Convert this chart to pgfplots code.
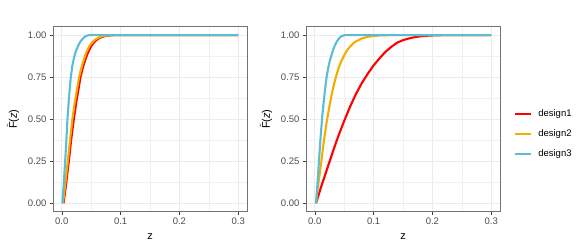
\documentclass[border=0pt]{standalone}
\usepackage{fontspec}
\setmainfont{Liberation Sans}
\usepackage{pgfplots}
\pgfplotsset{compat=1.18}
\definecolor{dred}{HTML}{FF0000}
\definecolor{dorange}{HTML}{F2AD00}
\definecolor{dblue}{HTML}{5BBCD6}
\definecolor{gridc}{HTML}{EBEBEB}
\definecolor{tickc}{HTML}{4D4D4D}
\pgfplotsset{
  myaxis/.style={
    scale only axis, width=194pt, height=185pt,
    xmin=-0.015, xmax=0.315, ymin=-0.05, ymax=1.05,
    xtick={0,0.1,0.2,0.3}, xticklabels={0.0,0.1,0.2,0.3},
    ytick={0,0.25,0.5,0.75,1}, yticklabels={0.00,0.25,0.50,0.75,1.00},
    minor xtick={0.05,0.15,0.25}, minor ytick={0.125,0.375,0.625,0.875},
    grid=both,
    major grid style={color=gridc, line width=0.9pt},
    minor grid style={color=gridc!70, line width=0.5pt},
    minor tick length=0pt, major tick length=3pt, tick align=outside,
    xtick pos=bottom, ytick pos=left,
    tick style={color=black!75, line width=0.6pt},
    axis line style={color=black!55, line width=0.8pt},
    ticklabel style={font=\fontsize{9.5}{10}\selectfont, text=tickc},
    xlabel={z}, ylabel={$\tilde{\mbox{F}}$(\textit{z})},
    label style={font=\fontsize{11}{12}\selectfont, text=black},
    x label style={at={(axis description cs:0.5,-0.149)}, anchor=base},
    y label style={at={(axis description cs:-0.206,0.5)}, anchor=center},
    every axis plot/.append style={line width=2.1pt, line join=round},
  }
}
\begin{document}
\begin{tikzpicture}[x=1pt,y=1pt]
\useasboundingbox (0,0) rectangle (581,249);
\begin{axis}[myaxis, at={(53pt,37.3pt)}, anchor=south west]
\addplot[dred] coordinates {(0.003,0) (0.0075,0.12) (0.0119,0.25) (0.016,0.38) (0.0204,0.50) (0.025,0.61) (0.0285,0.68) (0.0317,0.75) (0.036,0.81) (0.0405,0.86) (0.045,0.90) (0.05,0.935) (0.055,0.958) (0.06,0.974) (0.065,0.984) (0.071,0.992) (0.078,0.997) (0.09,1) (0.3,1)};
\addplot[dorange] coordinates {(0.002,0) (0.006,0.12) (0.0102,0.25) (0.014,0.38) (0.018,0.50) (0.022,0.60) (0.026,0.68) (0.0294,0.75) (0.034,0.815) (0.038,0.86) (0.042,0.90) (0.047,0.935) (0.052,0.958) (0.057,0.974) (0.062,0.984) (0.068,0.992) (0.075,0.997) (0.085,1) (0.3,1)};
\addplot[dblue] coordinates {(0.001,0) (0.003,0.10) (0.0057,0.25) (0.008,0.39) (0.0096,0.50) (0.012,0.62) (0.0153,0.75) (0.018,0.82) (0.021,0.87) (0.024,0.905) (0.027,0.93) (0.03,0.952) (0.033,0.968) (0.036,0.98) (0.039,0.99) (0.042,0.996) (0.046,0.999) (0.05,1) (0.3,1)};
\end{axis}
\begin{axis}[myaxis, at={(306pt,37.3pt)}, anchor=south west,
  legend style={at={(axis description cs:1,0.42)}, anchor=west, xshift=11pt,
    draw=none, fill=none, font=\fontsize{9.5}{10}\selectfont, row sep=7.5pt,
    /tikz/every odd column/.append style={column sep=4pt}},
  legend cell align=left,
  legend image code/.code={\draw[#1, line width=2.1pt] (0pt,0pt) -- (16pt,0pt);}]
\addplot[dred] coordinates {(0.002,0) (0.01,0.09) (0.02,0.195) (0.03,0.30) (0.04,0.40) (0.05,0.49) (0.06,0.575) (0.07,0.65) (0.08,0.715) (0.09,0.77) (0.10,0.82) (0.11,0.862) (0.12,0.90) (0.13,0.93) (0.14,0.955) (0.15,0.97) (0.16,0.98) (0.17,0.988) (0.18,0.993) (0.19,0.996) (0.20,0.998) (0.22,1) (0.3,1)};
\addlegendentry{design1}
\addplot[dorange] coordinates {(0.002,0) (0.005,0.09) (0.01,0.22) (0.015,0.36) (0.02,0.48) (0.025,0.58) (0.03,0.67) (0.035,0.74) (0.04,0.80) (0.045,0.845) (0.05,0.88) (0.055,0.91) (0.06,0.932) (0.065,0.95) (0.07,0.963) (0.08,0.98) (0.09,0.99) (0.10,0.995) (0.11,0.998) (0.13,1) (0.3,1)};
\addlegendentry{design2}
\addplot[dblue] coordinates {(0.002,0) (0.004,0.09) (0.007,0.25) (0.01,0.40) (0.0125,0.51) (0.015,0.60) (0.0175,0.68) (0.02,0.75) (0.0225,0.80) (0.025,0.84) (0.0275,0.87) (0.03,0.90) (0.0325,0.925) (0.035,0.945) (0.0375,0.962) (0.04,0.975) (0.0425,0.985) (0.045,0.992) (0.0475,0.996) (0.05,0.999) (0.055,1) (0.3,1)};
\addlegendentry{design3}
\end{axis}
\end{tikzpicture}
\end{document}
